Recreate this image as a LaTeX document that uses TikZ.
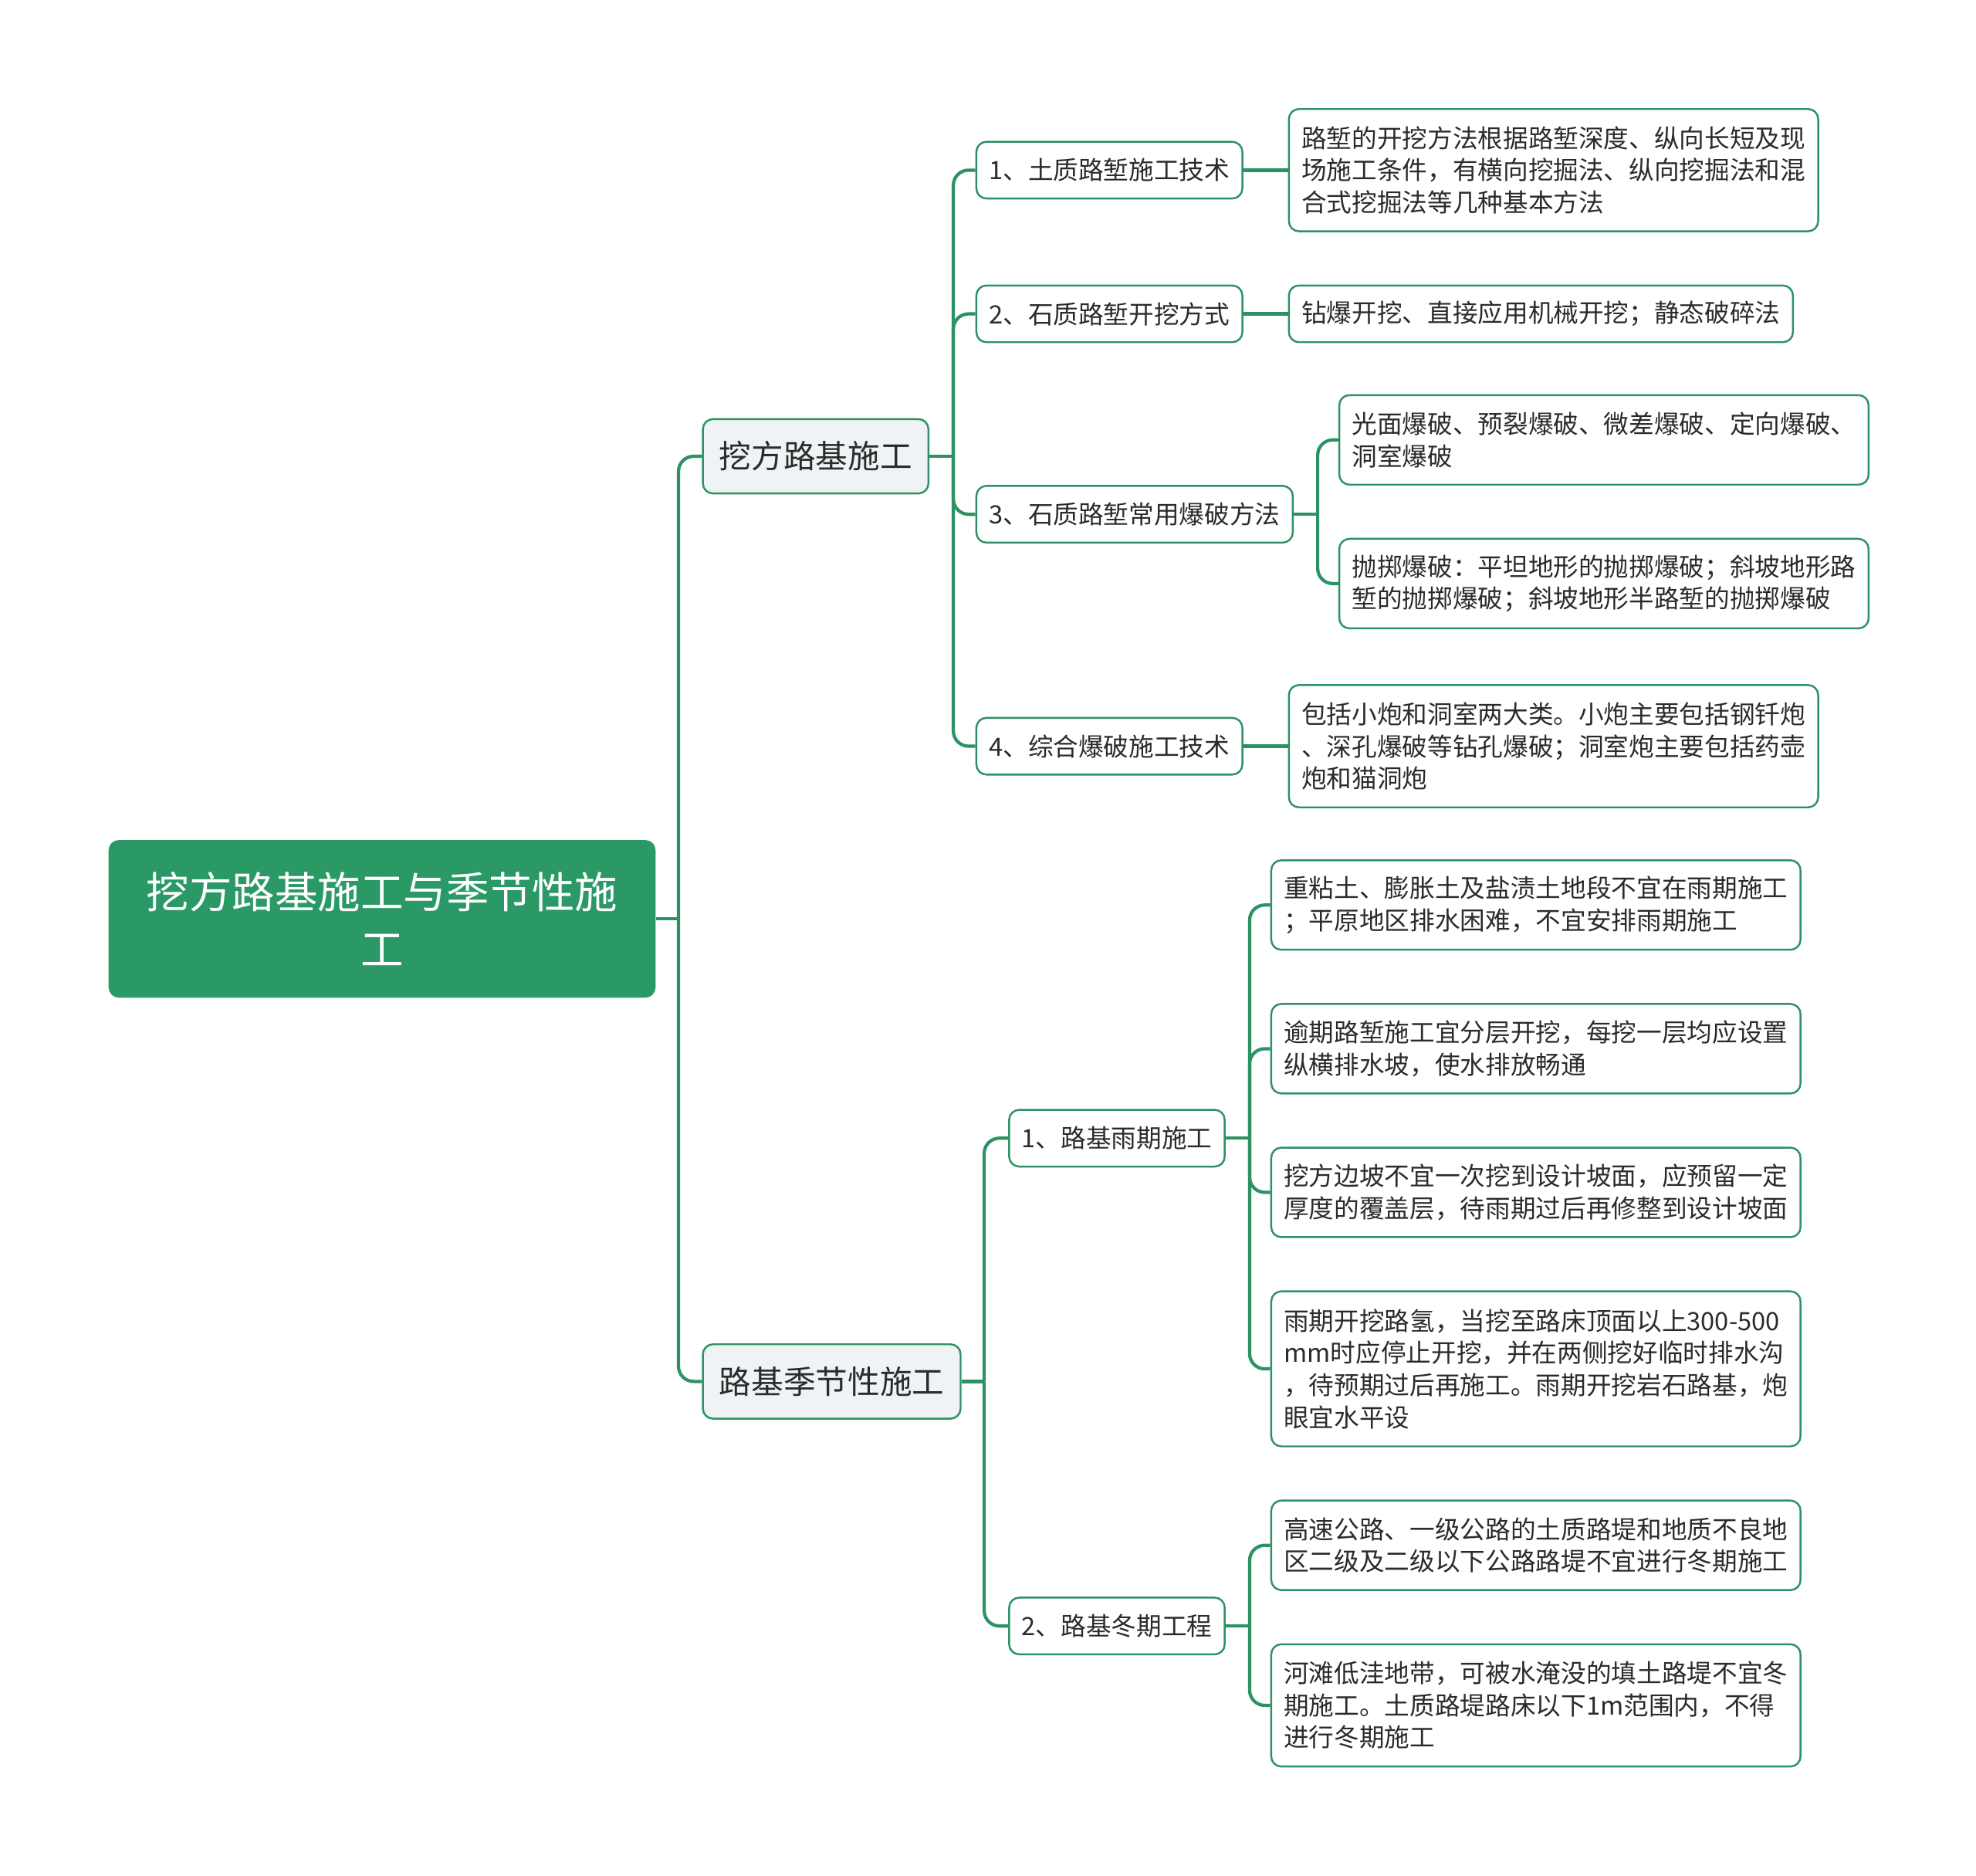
\documentclass[tikz,border=0pt]{standalone}
\usepackage{fontspec}
\newfontfamily\cjk{Noto Sans CJK SC}
\definecolor{rootgreen}{HTML}{2A9966}
\definecolor{linegreen}{HTML}{2D9263}
\definecolor{lightfill}{HTML}{EFF3F5}
\definecolor{txt}{HTML}{2B2B2B}
\begin{document}
\begin{tikzpicture}[x=1pt,y=-1pt,
  conn/.style={draw=linegreen,line width=2.6pt,rounded corners=12pt},
  rootbox/.style={fill=rootgreen,rounded corners=8pt,text=white,anchor=west,
    font=\cjk\fontsize{34}{45}\selectfont,align=center,text width=410pt,
    inner xsep=12pt,inner ysep=0pt,minimum height=125pt},
  mainbox/.style={fill=lightfill,draw=linegreen,line width=1.5pt,rounded corners=8pt,
    text=txt,anchor=west,font=\cjk\fontsize{25.5}{30}\selectfont,
    inner xsep=13pt,inner ysep=0pt,minimum height=59pt},
  subbox/.style={fill=white,draw=linegreen,line width=1.5pt,rounded corners=8pt,
    text=txt,anchor=west,font=\cjk\fontsize{20}{25.5}\selectfont,
    inner xsep=10pt,inner ysep=0pt,minimum height=45pt},
  leafbox/.style={fill=white,draw=linegreen,line width=1.5pt,rounded corners=8pt,
    text=txt,anchor=west,font=\cjk\fontsize{20}{25.5}\selectfont,align=left,
    text width=400pt,inner xsep=10pt,inner ysep=0pt},
]
\useasboundingbox (0,0) rectangle (1568,1488);
\fill[white] (0,0) rectangle (1568,1488);

% root and main branches
\node[rootbox] (root) at (86,729) {挖方路基施工与季节性施\\工};
\node[mainbox] (k1) at (557,362) {挖方路基施工};
\node[mainbox] (k2) at (557,1096) {路基季节性施工};

% second level
\node[subbox] (a1) at (774,135) {1、土质路堑施工技术};
\node[subbox] (a2) at (774,249) {2、石质路堑开挖方式};
\node[subbox] (a3) at (774,408) {3、石质路堑常用爆破方法};
\node[subbox] (a4) at (774,592) {4、综合爆破施工技术};
\node[subbox] (b1) at (800,903) {1、路基雨期施工};
\node[subbox] (b2) at (800,1290) {2、路基冬期工程};

% leaves
\node[leafbox,minimum height=97pt] (l1) at (1022,135) {路堑的开挖方法根据路堑深度、纵向长短及现\\场施工条件，有横向挖掘法、纵向挖掘法和混\\合式挖掘法等几种基本方法};
\node[leafbox,text width=380pt,minimum height=45pt] (l2) at (1022,249) {钻爆开挖、直接应用机械开挖；静态破碎法};
\node[leafbox,minimum height=71pt] (l3a) at (1062,349) {光面爆破、预裂爆破、微差爆破、定向爆破、\\洞室爆破};
\node[leafbox,minimum height=71pt] (l3b) at (1062,463) {抛掷爆破：平坦地形的抛掷爆破；斜坡地形路\\堑的抛掷爆破；斜坡地形半路堑的抛掷爆破};
\node[leafbox,minimum height=97pt] (l4) at (1022,592) {包括小炮和洞室两大类。小炮主要包括钢钎炮\\、深孔爆破等钻孔爆破；洞室炮主要包括药壶\\炮和猫洞炮};
\node[leafbox,minimum height=71pt] (r1) at (1008,718) {重粘土、膨胀土及盐渍土地段不宜在雨期施工\\；平原地区排水困难，不宜安排雨期施工};
\node[leafbox,minimum height=71pt] (r2) at (1008,832) {逾期路堑施工宜分层开挖，每挖一层均应设置\\纵横排水坡，使水排放畅通};
\node[leafbox,minimum height=71pt] (r3) at (1008,946) {挖方边坡不宜一次挖到设计坡面，应预留一定\\厚度的覆盖层，待雨期过后再修整到设计坡面};
\node[leafbox,minimum height=123pt] (r4) at (1008,1086) {雨期开挖路氢，当挖至路床顶面以上300-500\\mm时应停止开挖，并在两侧挖好临时排水沟\\，待预期过后再施工。雨期开挖岩石路基，炮\\眼宜水平设};
\node[leafbox,minimum height=71pt] (w1) at (1008,1226) {高速公路、一级公路的土质路堤和地质不良地\\区二级及二级以下公路路堤不宜进行冬期施工};
\node[leafbox,minimum height=97pt] (w2) at (1008,1353) {河滩低洼地带，可被水淹没的填土路堤不宜冬\\期施工。土质路堤路床以下1m范围内，不得\\进行冬期施工};

% junctions
\coordinate (jroot) at ([xshift=18pt]root.east);
\coordinate (jk1) at ([xshift=19pt]k1.east);
\coordinate (jk2) at ([xshift=18pt]k2.east);
\coordinate (ja3) at ([xshift=19pt]a3.east);
\coordinate (jb1) at ([xshift=19pt]b1.east);
\coordinate (jb2) at ([xshift=19pt]b2.east);

% connectors
\draw[conn] (root.east) -- (jroot);
\draw[conn] (jroot) |- (k1.west);
\draw[conn] (jroot) |- (k2.west);

\draw[conn] (k1.east) -- (jk1);
\draw[conn] (jk1) |- (a1.west);
\draw[conn] (jk1) |- (a2.west);
\draw[conn] (jk1) |- (a3.west);
\draw[conn] (jk1) |- (a4.west);

\draw[conn] (k2.east) -- (jk2);
\draw[conn] (jk2) |- (b1.west);
\draw[conn] (jk2) |- (b2.west);

\draw[conn] (a1.east) -- (l1.west);
\draw[conn] (a2.east) -- (l2.west);
\draw[conn] (a4.east) -- (l4.west);

\draw[conn] (a3.east) -- (ja3);
\draw[conn] (ja3) |- (l3a.west);
\draw[conn] (ja3) |- (l3b.west);

\draw[conn] (b1.east) -- (jb1);
\draw[conn] (jb1) |- (r1.west);
\draw[conn] (jb1) |- (r2.west);
\draw[conn] (jb1) |- (r3.west);
\draw[conn] (jb1) |- (r4.west);

\draw[conn] (b2.east) -- (jb2);
\draw[conn] (jb2) |- (w1.west);
\draw[conn] (jb2) |- (w2.west);
\end{tikzpicture}
\end{document}
